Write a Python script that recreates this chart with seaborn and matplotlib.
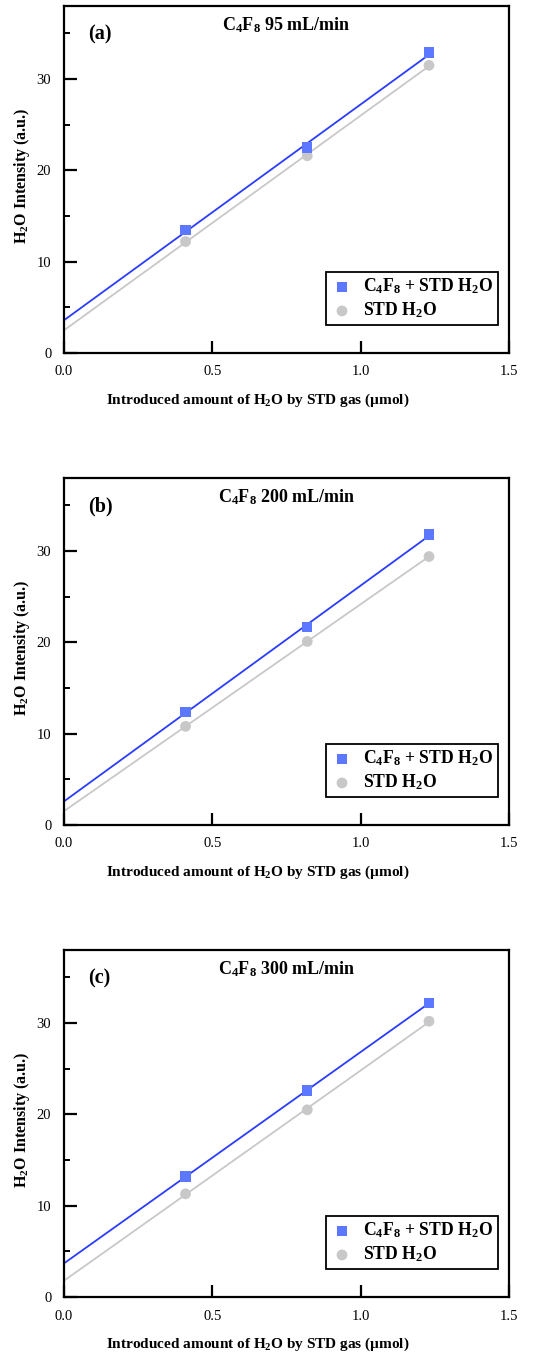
import matplotlib
matplotlib.use("Agg")
import matplotlib.pyplot as plt
from matplotlib.ticker import MultipleLocator, FixedLocator
import numpy as np
import pandas as pd
import seaborn as sns

# introduced H2O (umol)
amount = [0.41, 0.82, 1.23]

# panel (a) C4F8 95 mL/min
a_c4f8 = [13.5, 22.5, 32.9]
a_std = [12.2, 21.6, 31.5]
# panel (b) C4F8 200 mL/min
b_c4f8 = [12.4, 21.7, 31.8]
b_std = [10.8, 20.1, 29.4]
# panel (c) C4F8 300 mL/min
c_c4f8 = [13.2, 22.6, 32.2]
c_std = [11.3, 20.5, 30.2]

panel_tags = ["(a)", "(b)", "(c)"]
flow_titles = ["C$_4$F$_8$ 95 mL/min", "C$_4$F$_8$ 200 mL/min", "C$_4$F$_8$ 300 mL/min"]
series_names = ["C$_4$F$_8$ + STD H$_2$O", "STD H$_2$O"]

sns.set_style("ticks")
plt.rcParams["font.family"] = ["Liberation Serif", "DejaVu Serif"]
plt.rcParams["mathtext.default"] = "regular"
plt.rcParams["text.color"] = "black"
plt.rcParams["axes.labelcolor"] = "black"
plt.rcParams["xtick.color"] = "black"
plt.rcParams["ytick.color"] = "black"

MARK_BLUE = "#5b78ff"
LINE_BLUE = "#2a3cff"
GRAY = "#c8c8c8"


def draw_panel(ax, tag, title, c4f8, std):
	df = pd.DataFrame({"x": amount, "c4f8": c4f8, "std": std})
	for col, mcol, lcol, marker, size, name in [
		("std", GRAY, GRAY, "o", 60, series_names[1]),
		("c4f8", MARK_BLUE, LINE_BLUE, "s", 55, series_names[0]),
	]:
		slope, icpt = np.polyfit(df["x"], df[col], 1)
		xs = np.array([0.0, df["x"].max()])
		fit = pd.DataFrame({"x": xs, "y": slope * xs + icpt})
		sns.lineplot(data=fit, x="x", y="y", color=lcol, lw=1.3, ax=ax, legend=False, zorder=2)
		sns.scatterplot(data=df, x="x", y=col, color=mcol, marker=marker, s=size,
			edgecolor="none", ax=ax, label=name, zorder=3)

	ax.set_xlim(0, 1.5)
	ax.set_ylim(0, 38)
	ax.xaxis.set_major_locator(FixedLocator([0.0, 0.5, 1.0, 1.5]))
	ax.yaxis.set_major_locator(MultipleLocator(10))
	ax.yaxis.set_minor_locator(MultipleLocator(5))
	ax.set_xticklabels(["0.0", "0.5", "1.0", "1.5"])
	ax.tick_params(axis="both", which="major", direction="in", length=9, width=1.6,
		pad=9, labelsize=10.5, colors="black")
	ax.tick_params(axis="y", which="minor", direction="in", length=4.5, width=1.4,
		colors="black")
	for sp in ax.spines.values():
		sp.set_linewidth(1.6)
		sp.set_color("black")
	ax.set_xlabel("Introduced amount of H$_2$O by STD gas (\u00b5mol)", fontsize=11,
		fontweight="bold", color="black")
	ax.xaxis.set_label_coords(0.436, -0.112)
	ax.set_ylabel("H$_2$O Intensity (a.u.)", fontsize=11.5, fontweight="bold",
		color="black")
	ax.yaxis.set_label_coords(-0.072, 0.51)

	ax.text(0.054, 0.919, tag, transform=ax.transAxes, fontsize=14.5, fontweight="bold",
		ha="left", va="center", color="black")
	ax.text(0.50, 0.945, title, transform=ax.transAxes, fontsize=13, fontweight="bold",
		ha="center", va="center", color="black")

	handles, labels = ax.get_legend_handles_labels()
	order = [labels.index(series_names[0]), labels.index(series_names[1])]
	leg = ax.legend([handles[i] for i in order], [labels[i] for i in order],
		loc="lower right", bbox_to_anchor=(0.975, 0.08), fancybox=False,
		edgecolor="black", framealpha=1, prop={"weight": "bold", "size": 12.7},
		handletextpad=0.6, borderpad=0.28, labelspacing=0.25, handlelength=1.2,
		borderaxespad=0)
	leg.get_frame().set_linewidth(1.3)
	for t in leg.get_texts():
		t.set_color("black")


fig = plt.figure(figsize=(5.36, 13.56), dpi=100)
bottoms = [0.7397, 0.3916, 0.0435]
panels = [(a_c4f8, a_std), (b_c4f8, b_std), (c_c4f8, c_std)]
for i, (c4f8, std) in enumerate(panels):
	ax = fig.add_axes([0.119, bottoms[i], 0.831, 0.2559])
	draw_panel(ax, panel_tags[i], flow_titles[i], c4f8, std)

fig.savefig("out.png", dpi=100, facecolor="white")
